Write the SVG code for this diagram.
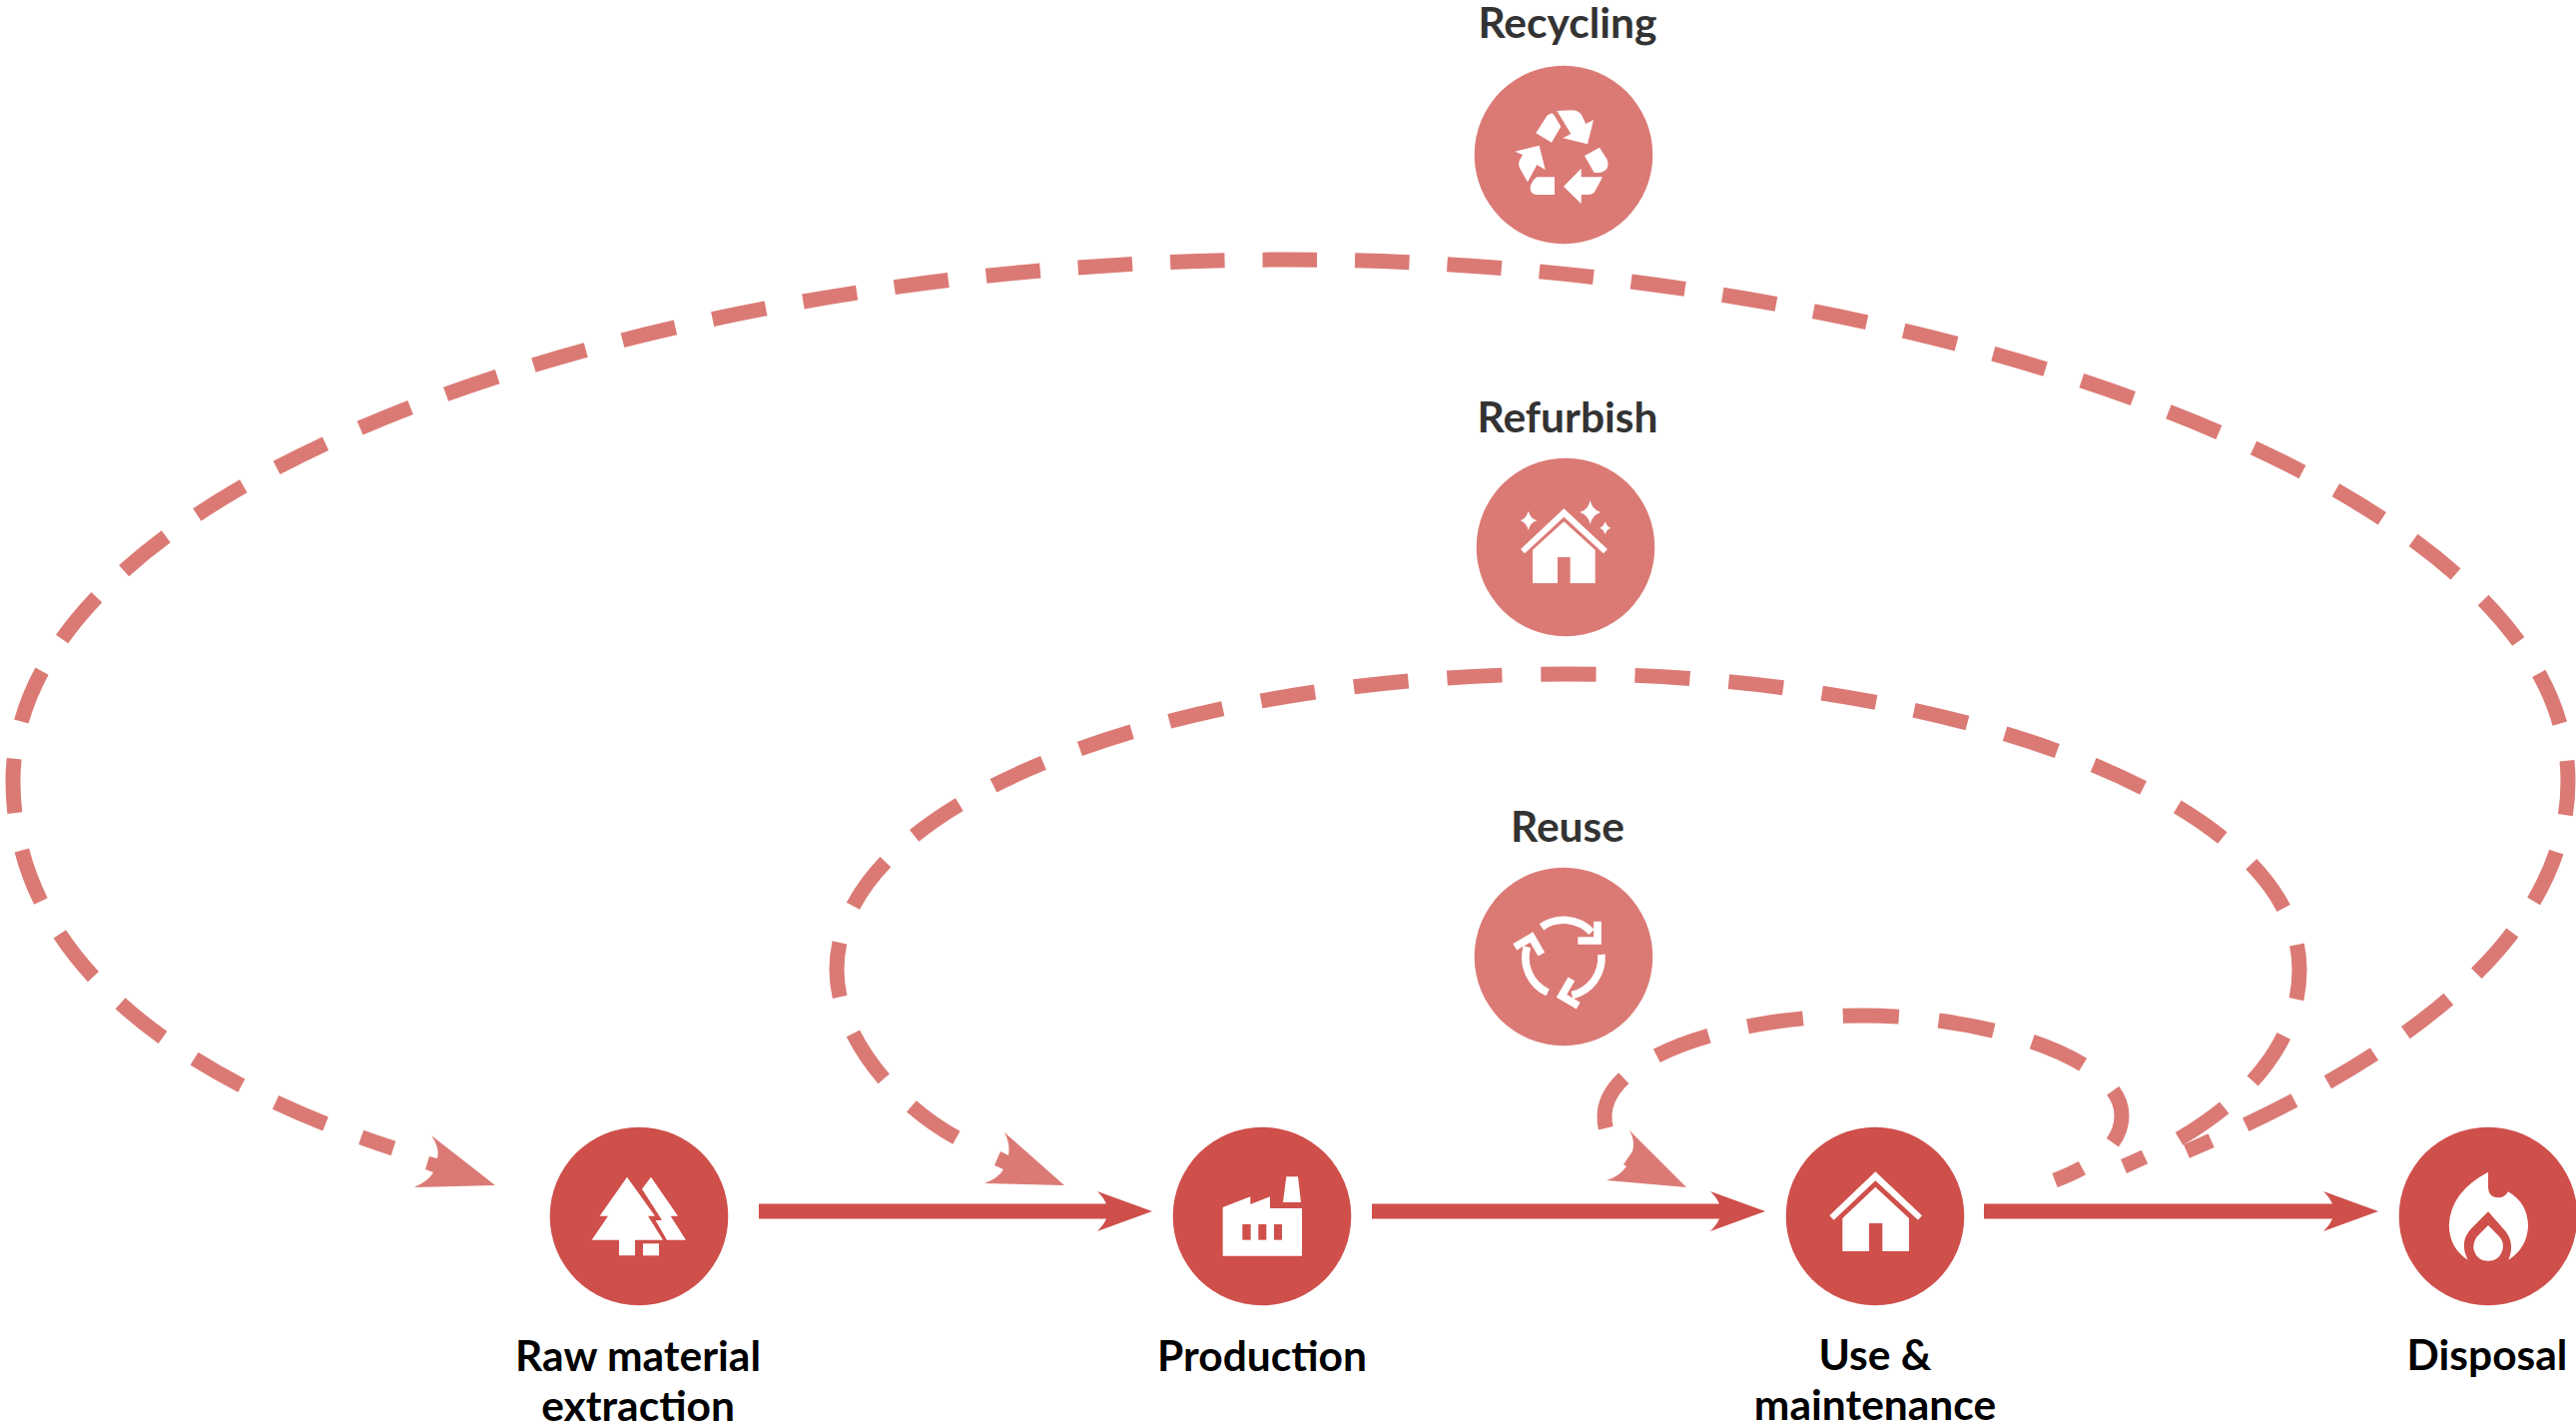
<svg xmlns="http://www.w3.org/2000/svg" width="2580" height="1426" viewBox="0 0 2580 1426">
<style>
text{font-family:Lato,"Noto Sans",sans-serif;font-size:42.5px;font-weight:700;text-anchor:middle}
.t{fill:#333333}.b{fill:#000000}
.d{fill:#CF4F4A}.l{fill:#DB7A75}.w{fill:#FFFFFF}
.dash{fill:none;stroke:#DB7A75;stroke-width:15}
.solid{fill:none;stroke:#CF4F4A;stroke-width:15}
.ws{fill:none;stroke:#FFFFFF;stroke-width:23}
</style>
<defs>
<path id="head" d="M-55,-20 Q-43,-8 -46,0 Q-43,8 -55,20 L0,0 Z"/>
<g id="reuseArm">
<path d="M312,385 A115,115 0 0 1 462,400"/>
<path d="M421,426 H480 V368"/>
</g>
</defs>
<rect width="2580" height="1426" fill="#FFFFFF"/>
<g id="connectors">
<g id="flow">
<path class="solid" d="M760,1213 H1110"/><use href="#head" class="d" x="1154" y="1213"/>
<path class="solid" d="M1374,1213 H1724"/><use href="#head" class="d" x="1768" y="1213"/>
<path class="solid" d="M1987,1213 H2338"/><use href="#head" class="d" x="2382" y="1213"/>
</g>
<g id="loops">
<path class="dash" stroke-dasharray="54.5 38" stroke-dashoffset="27.5" d="M2190,1153 C2360,1080 2572,960 2572,782 C2572,480 1900,260 1292,260 C650,260 13,480 13,782 C13,970 195,1085 394,1150"/>
<path class="dash" stroke-dasharray="55 39" stroke-dashoffset="32" d="M2127,1168 C2240,1120 2303,1050 2303,971 C2303,800 1950,675 1568,675 C1180,675 838,800 838,971 C838,1040 900,1110 965,1143"/>
<path class="dash" stroke-dasharray="56 40" stroke-dashoffset="26" d="M2058,1182 C2090,1170 2125,1150 2125,1117 C2125,1060 1990,1017 1867,1017 C1730,1017 1607,1060 1607,1118 Q1607,1130 1612,1140"/>
<path class="l" d="M432,1137 Q441,1150 438,1160 L430,1158 L426,1171 L434,1174 Q430,1182 415,1189 L496,1187 Z"/>
<path class="l" d="M1006,1134 Q1012,1145 1010,1157 L1002,1153 L996,1167 L1005,1171 Q1000,1180 986,1185 L1066,1187 Z"/>
<path class="l" d="M1632,1132 Q1638,1142 1635,1153 L1626,1166 L1629,1168 Q1622,1178 1609,1182 L1689,1189 Z"/>
</g>
</g>
<g id="node-recycling">
<text class="t" x="1570" y="38">Recycling</text>
<circle class="l" cx="1566" cy="155" r="89.3"/>
<g class="w" transform="translate(1440,0) scale(0.33333)">
<path d="M295,400 L328,348 Q345,332 352,350 L370,380 L342,428 Z"/>
<path d="M358,333 L405,331 Q422,332 432,345 L445,372 L468,360 L450,433 L376,415 L400,402 Z"/>
<path d="M441,468 L486,443 L508,478 Q520,510 490,518 L470,519 Z"/>
<path d="M495,532 L472,575 Q465,585 450,585 L431,585 L431,612 L378,560 L431,506 L431,532 Z"/>
<path d="M351,532 L351,585 L298,585 Q278,585 278,565 Q280,545 298,532 Z"/>
<path d="M270,547 L246,505 Q240,490 248,478 L255,465 L232,455 L305,437 L323,510 L298,495 Z"/>
</g>
</g>
<g id="node-refurbish">
<text class="t" x="1570" y="432.500">Refurbish</text>
<circle class="l" cx="1568" cy="548" r="89.3"/>
<g class="w" transform="translate(1440,390) scale(0.33333)">
<path d="M272,365 Q278,388 298,394 Q278,400 272,423 Q266,400 248,394 Q266,388 272,365 Z"/>
<path d="M458,332 Q464,362 490,369 Q464,376 458,406 Q452,376 427,369 Q452,362 458,332 Z"/>
<path d="M503,396 Q507,412 520,416 Q507,420 503,436 Q499,420 486,416 Q499,412 503,396 Z"/>
<path d="M379,358 L510,480 L498,493 L379,383 L261,493 L249,480 Z"/>
<path d="M379,397 L473,482 V582 H398 V504 H360 V582 H285 V482 Z"/>
</g>
</g>
<g id="node-reuse">
<text class="t" x="1570" y="843">Reuse</text>
<circle class="l" cx="1566" cy="958" r="89.3"/>
<g class="ws" transform="translate(1440,800) scale(0.33333)">
<use href="#reuseArm"/>
<use href="#reuseArm" transform="rotate(120 378 478)"/>
<use href="#reuseArm" transform="rotate(240 378 478)"/>
</g>
</g>
<g id="node-raw">
<circle class="d" cx="640" cy="1218" r="89.3"/>
<g class="w" transform="translate(380,1100) scale(0.33333)">
<path d="M744,236 L828,353 H807 L852,425 H768 V472 H720 V425 H638 L687,353 H662 Z"/>
<path d="M816,236 L897,353 H875 L921,425 H864 L830,367 L849,365 L789,272 Z"/>
<rect x="792" y="436" width="48" height="36"/>
</g>
<text class="b" x="639" y="1373">Raw material</text>
<text class="b" x="639" y="1423">extraction</text>
</g>
<g id="node-production">
<circle class="d" cx="1264" cy="1218" r="89.3"/>
<g transform="translate(960,1100) scale(0.33333)">
<path class="w" d="M794,327 L877,295 V318 L936,295 V330 H1032 V473 H794 Z"/>
<path class="w" d="M985,235 H1020 L1029,312 H975 Z"/>
<rect class="d" x="853" y="378" width="25" height="47"/>
<rect class="d" x="901" y="378" width="24" height="47"/>
<rect class="d" x="948" y="378" width="24" height="47"/>
</g>
<text class="b" x="1264" y="1373">Production</text>
</g>
<g id="node-use">
<circle class="d" cx="1878" cy="1218" r="89.3"/>
<g class="w" transform="translate(1560,1090) scale(0.33333)">
<path d="M955,250 L1095,382 L1083,395 L955,277 L830,395 L817,382 Z"/>
<path d="M955,296 L1056,390 V489 H976 V405 H936 V489 H856 V390 Z"/>
</g>
<text class="b" x="1878" y="1372">Use &amp;</text>
<text class="b" x="1878" y="1422">maintenance</text>
</g>
<g id="node-disposal">
<circle class="d" cx="2492" cy="1218" r="89.3"/>
<g class="w" transform="translate(2000,1080) scale(0.36996,0.33333)">
<path d="M1330,281 L1330,330 Q1332,358 1358,358 Q1375,358 1384,340 Q1438,375 1438,445 Q1435,510 1385,545 Q1405,490 1370,450 L1330,400 L1285,450 Q1250,490 1275,545 Q1225,510 1224,440 Q1228,340 1330,281 Z"/>
<path d="M1330,441 L1360,475 Q1372,490 1370,510 Q1362,548 1330,548 Q1298,548 1290,510 Q1290,490 1300,475 Z"/>
</g>
<text class="b" x="2491" y="1372">Disposal</text>
</g>
</svg>
